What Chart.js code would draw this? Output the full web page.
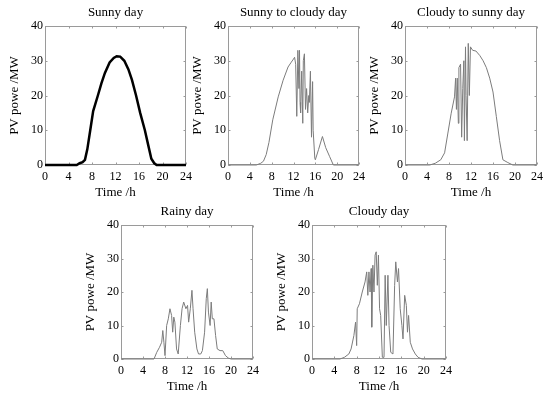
<!DOCTYPE html>
<html>
<head>
<meta charset="utf-8">
<script src="https://cdn.jsdelivr.net/npm/chart.js@4.4.1/dist/chart.umd.min.js"></script>
<style>
  body { margin: 0; background: #fff; }
  #wrap { position: relative; width: 550px; height: 398px; background: #fff; }
  canvas { position: absolute; }
</style>
</head>
<body>
<div id="wrap"></div>
<script>
// tick labels
var hourTicks = [0, 4, 8, 12, 16, 20, 24];
var powerTicks = [0, 10, 20, 30, 40];

// titles of the five panels
var titles = ['Sunny day', 'Sunny to cloudy day', 'Cloudy to sunny day', 'Rainy day', 'Cloudy day'];

// sunny day
var sunnyHours = [0, 5.4, 5.9, 6.4, 6.8, 7.2, 7.7, 8.2, 9.0, 9.6, 10.2, 11.0, 11.7, 12.2, 12.8, 13.5, 14.2, 14.8, 15.5, 16.2, 17.0, 17.6, 18.1, 18.6, 19.0, 24];
var sunnyPower = [0, 0, 0.5, 0.8, 1.5, 4.5, 10, 15.5, 20, 23.5, 26.5, 29.5, 30.8, 31.3, 31.2, 30, 27.5, 24.5, 20, 15, 10, 5.5, 1.8, 0.5, 0, 0];

// sunny to cloudy day
var sunCloudHours = [0, 5.2, 6.0, 6.5, 7.0, 7.5, 8.2, 9.2, 10.1, 11.0, 11.6, 12.0, 12.2, 12.4, 12.6, 12.8, 13.0, 13.1, 13.2, 13.3, 13.5, 13.7, 13.8, 14.0, 14.2, 14.4, 14.6, 14.8, 14.9, 15.1, 15.3, 15.5, 15.6, 15.9, 16.0, 16.6, 17.3, 17.9, 18.6, 19.3, 24];
var sunCloudPower = [0, 0, 0.5, 1.1, 3, 6.5, 13, 19.6, 24.4, 28.2, 29.6, 30.5, 31, 29, 14, 33, 22, 33, 18, 15, 27, 12, 30, 32, 16, 22, 15, 20, 18, 27, 8, 24, 10, 2, 1.5, 4.5, 8.2, 5, 2.5, 0, 0];

// cloudy to sunny day
var cloudSunHours = [0, 4.5, 5.5, 6.5, 7.2, 7.8, 8.4, 9.0, 9.2, 9.35, 9.5, 9.7, 9.8, 10.1, 10.3, 10.5, 10.7, 10.8, 11.0, 11.1, 11.3, 11.5, 11.7, 11.9, 12.3, 12.9, 13.6, 14.2, 14.8, 15.4, 16.0, 16.6, 17.2, 17.8, 18.7, 19.6, 24];
var cloudSunPower = [0, 0, 0.5, 1.5, 3.5, 9.2, 14.9, 19.6, 25, 16, 25, 12, 28, 29, 8, 22, 30, 7, 34, 20, 7, 35, 20, 34, 33, 32.8, 31.5, 30, 28, 25, 21, 14, 7, 1.5, 0.7, 0, 0];

// rainy day
var rainyHours = [0, 6.0, 6.5, 7.0, 7.4, 7.6, 7.8, 8.0, 8.3, 8.6, 8.9, 9.2, 9.4, 9.6, 9.8, 10.1, 10.4, 10.8, 11.1, 11.4, 11.8, 12.1, 12.3, 12.6, 12.9, 13.1, 13.4, 13.8, 14.1, 14.5, 14.8, 15.2, 15.5, 15.7, 15.9, 16.2, 16.4, 16.6, 16.9, 17.2, 17.5, 18.0, 18.5, 19.0, 19.5, 20.0, 24];
var rainyPower = [0, 0, 2, 3.5, 5, 8.5, 5, 1, 10, 12, 15, 13, 8, 12.5, 11, 3, 1.5, 10, 15, 17, 15, 16, 11, 15, 20.5, 15, 8, 3, 1.5, 1.5, 2.5, 8, 18, 21, 14, 10, 17, 12, 12, 7, 3, 2.5, 2.5, 1, 0.3, 0, 0];

// cloudy day
var cloudyHours = [0, 5.0, 5.8, 6.6, 7.0, 7.5, 7.8, 8.0, 8.1, 8.5, 9.0, 9.5, 9.8, 10.0, 10.2, 10.4, 10.6, 10.7, 10.9, 11.1, 11.3, 11.5, 11.7, 11.9, 12.1, 12.3, 12.6, 12.9, 13.1, 13.3, 13.6, 13.8, 14.1, 14.5, 14.8, 15.0, 15.3, 15.5, 15.8, 16.1, 16.3, 16.6, 16.9, 17.1, 17.3, 17.6, 18.0, 18.5, 19.0, 19.7, 24];
var cloudyPower = [0, 0, 0.5, 1.5, 3, 7, 11, 4, 15, 16.5, 20, 23, 26, 19, 26, 20, 27, 9.5, 28, 20, 31, 32, 22, 31, 15, 13, 0.5, 0.5, 25, 10, 25, 10, 2, 1.5, 22, 29, 23, 27, 15, 10, 6, 19, 16, 8, 13, 5, 3, 1.5, 0.5, 0, 0];

var hoursList = [sunnyHours, sunCloudHours, cloudSunHours, rainyHours, cloudyHours];
var powerList = [sunnyPower, sunCloudPower, cloudSunPower, rainyPower, cloudyPower];

// plot area of each panel on the page
var boxes = [
  { px: 45, py: 26, pw: 142, ph: 139 },
  { px: 228, py: 26, pw: 132, ph: 139 },
  { px: 405, py: 26, pw: 133, ph: 139 },
  { px: 121, py: 225, pw: 133, ph: 134 },
  { px: 312, py: 225, pw: 135, ph: 134 }
];

var serif = 'Liberation Serif, Times New Roman, serif';
var frameColor = '#9a9a9a';

// matlab style box with inner ticks
var framePlugin = {
  id: 'frame',
  beforeDatasetsDraw: function (chart) {
    var ctx = chart.ctx, a = chart.chartArea;
    var sx = chart.scales.x, sy = chart.scales.y;
    var l = Math.round(a.left) + 0.5, r = Math.round(a.right) - 0.5;
    var t = Math.round(a.top) + 0.5, b = Math.round(a.bottom) - 0.5;
    ctx.save();
    ctx.strokeStyle = frameColor;
    ctx.lineWidth = 1;
    ctx.strokeRect(l, t, r - l, b - t);
    ctx.beginPath();
    sx.ticks.forEach(function (tk) {
      var x = Math.round(sx.getPixelForValue(tk.value)) + 0.5;
      ctx.moveTo(x, b); ctx.lineTo(x, b - 2);
      ctx.moveTo(x, t); ctx.lineTo(x, t + 2);
    });
    sy.ticks.forEach(function (tk) {
      var y = Math.round(sy.getPixelForValue(tk.value)) + 0.5;
      ctx.moveTo(l, y); ctx.lineTo(l + 2, y);
      ctx.moveTo(r, y); ctx.lineTo(r - 2, y);
    });
    ctx.stroke();
    ctx.restore();
  }
};

var wrap = document.getElementById('wrap');

for (var i = 0; i < 5; i++) {
  var bx = boxes[i];
  var cv = document.createElement('canvas');
  cv.width = bx.pw + 55;
  cv.height = bx.ph + 26 + 36;
  cv.style.left = (bx.px - 45) + 'px';
  cv.style.top = (bx.py - 26) + 'px';
  cv.style.width = cv.width + 'px';
  cv.style.height = cv.height + 'px';
  wrap.appendChild(cv);

  var pts = hoursList[i].map(function (h, k) { return { x: h, y: powerList[i][k] }; });

  new Chart(cv, {
    type: 'line',
    data: {
      datasets: [{
        data: pts,
        borderColor: i === 0 ? '#000' : '#7c7c7c',
        borderWidth: i === 0 ? 2.5 : 1,
        pointRadius: 0,
        tension: 0,
        fill: false,
        clip: false
      }]
    },
    options: {
      responsive: false,
      animation: false,
      devicePixelRatio: 1,
      layout: { padding: { left: 0, right: 10, top: 0, bottom: 0 } },
      plugins: {
        legend: { display: false },
        tooltip: { enabled: false },
        title: {
          display: true,
          text: titles[i],
          fullSize: false,
          color: '#000',
          font: { family: serif, size: 13, weight: 'normal', lineHeight: 1 },
          padding: { top: 6, bottom: 7 }
        }
      },
      scales: {
        x: {
          type: 'linear',
          min: 0,
          max: 24,
          afterBuildTicks: function (s) { s.ticks = hourTicks.map(function (v) { return { value: v }; }); },
          ticks: { color: '#000', font: { family: serif, size: 12 }, padding: 5, maxRotation: 0, autoSkip: false },
          grid: { display: false, drawTicks: false },
          border: { display: false },
          title: {
            display: true,
            text: 'Time /h',
            color: '#000',
            font: { family: serif, size: 13, lineHeight: 1 },
            padding: { top: 0, bottom: 2 }
          },
          afterFit: function (s) { s.height = 36; }
        },
        y: {
          min: 0,
          max: 40,
          afterBuildTicks: function (s) { s.ticks = powerTicks.map(function (v) { return { value: v }; }); },
          ticks: { color: '#000', font: { family: serif, size: 12 }, padding: 2 },
          grid: { display: false, drawTicks: false },
          border: { display: false },
          title: {
            display: true,
            text: 'PV powe /MW',
            color: '#000',
            font: { family: serif, size: 13, lineHeight: 1 },
            padding: { top: 8.5, bottom: 0 }
          },
          afterFit: function (s) { s.width = 45; }
        }
      }
    },
    plugins: [framePlugin]
  });
}
</script>
</body>
</html>
